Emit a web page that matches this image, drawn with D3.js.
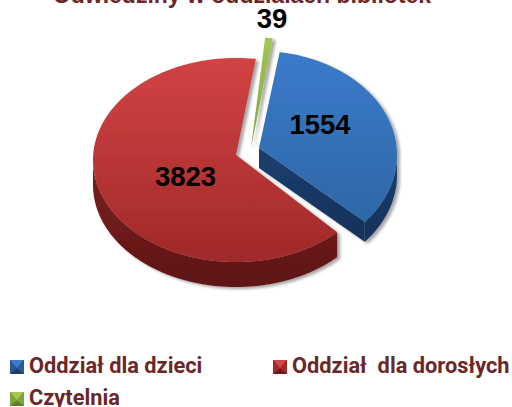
<!DOCTYPE html>
<html><head><meta charset="utf-8">
<style>html,body{margin:0;padding:0;background:#fff}svg{display:block}</style>
<script src="https://cdn.jsdelivr.net/npm/d3@7"></script></head><body>
<svg id="c" width="512" height="407"></svg>
<script>
const categories=["Oddział dla dzieci","Oddział  dla dorosłych","Czytelnia"];
const values=[1554,3823,39];
const title="Odwiedziny w oddziałach bibliotek";
const total=d3.sum(values);
const arcsData=d3.pie().sort(null).value(d=>d)(values);
const toUnits=a=>a/(2*Math.PI)*total;
// true share of the pie -> pictured angle (the reference is drawn in perspective and exploded)
const slices=[
 {i:0,range:[8.6,130],top:["#3b7bcb","#2e67a6"],side:["#1c3f6e","#14305a"],ax:259,ay:148,cx:259,cy:155,rx:138,ry:104,depth:20},
 {i:1,range:[135,368],top:["#d24343","#a02929"],side:["#7c1f1f","#5e1616"],ax:236,ay:155,cx:236,cy:160,rx:143,ry:102,depth:25},
 {i:2,range:[365.8,369.2],top:["#a4c653","#7fa53a"],side:["#6b8c30","#5f7d2a"],ax:251,ay:148,cx:252,cy:153,rx:130,ry:116,depth:1}
];
const svg=d3.select("#c");
const defs=svg.append("defs");
slices.forEach(s=>{
 [["g",s.top],["s",s.side]].forEach(([p,c])=>{
  const g=defs.append("linearGradient").attr("id",p+s.i).attr("x1",0).attr("x2",0).attr("y1",0).attr("y2",1);
  g.append("stop").attr("offset",0).attr("stop-color",c[0]);
  g.append("stop").attr("offset",1).attr("stop-color",c[1]);
 });
});
const fl=defs.append("filter").attr("id","shadow").attr("x","-20%").attr("y","-20%").attr("width","140%").attr("height","140%");
fl.append("feDropShadow").attr("dx",3).attr("dy",2).attr("stdDeviation",1.6).attr("flood-color","#000").attr("flood-opacity",0.35);
const line=d3.line();
function pt(s,deg,dy=0){const r=deg*Math.PI/180;return [s.cx+s.rx*Math.sin(r),s.cy-s.ry*Math.cos(r)+dy];}
[1,0,2].forEach(k=>{
 const s=slices[k],a=arcsData[k];
 const scale=d3.scaleLinear().domain([toUnits(a.startAngle),toUnits(a.endAngle)]).range(s.range);
 const a0=scale(toUnits(a.startAngle)),a1=scale(toUnits(a.endAngle));
 const pts=d3.range(a0,a1,0.5).concat([a1]);
 const G=svg.append("g").attr("filter","url(#shadow)");
 const f0=Math.max(a0,90),f1=Math.min(a1,270);
 if(f1>f0){
  const fr=d3.range(f0,f1,0.5).concat([f1]);
  G.append("path").attr("fill",`url(#s${k})`)
   .attr("d",line(fr.map(d=>pt(s,d)).concat(fr.slice().reverse().map(d=>pt(s,d,s.depth))))+"Z");
 }
 if(k===0){
  const e=pt(s,a1);
  G.append("path").attr("fill",`url(#s${k})`)
   .attr("d",line([[s.ax,s.ay],e,[e[0],e[1]+s.depth],[s.ax,s.ay+s.depth]])+"Z");
 }
 G.append("path").attr("fill",`url(#g${k})`)
  .attr("d",line([[s.ax,s.ay]].concat(pts.map(d=>pt(s,d))))+"Z");
});
const lab=[[320,124],[185.5,176],[272,18]];
values.forEach((v,i)=>svg.append("text").text(v).attr("x",lab[i][0]).attr("y",lab[i][1])
 .attr("dy","0.35em").attr("text-anchor","middle").attr("fill","#000")
 .style("font","bold 27.5px 'Liberation Sans'"));
svg.append("text").text(title).attr("x",242).attr("y",3).attr("text-anchor","middle")
 .attr("fill","#6b2727").style("font","bold 23px 'Liberation Sans'");
const legPos=[{m:[10,360],t:[29,373]},{m:[273,360],t:[292,373]},{m:[10,392],t:[29,405]}];
const legColors=[["#3b7bcb","#2a5a94","#1d3f6c"],["#d44545","#a52b2b","#6a1a1a"],["#a4c653","#7fa53a","#5f7d2a"]];
categories.forEach((c,i)=>{
 const p=legPos[i].m,col=legColors[i],w=14;
 const g=svg.append("g").attr("transform",`translate(${p[0]},${p[1]})`);
 g.append("rect").attr("width",w).attr("height",w).attr("fill",col[2]);
 g.append("path").attr("d",line([[0,0],[w,0],[w/2,w*0.6]])+"Z").attr("fill",col[0]);
 g.append("path").attr("d",line([[0,0],[w/2,w*0.6],[0,w]])+"Z").attr("fill",col[1]);
 g.append("path").attr("d",line([[w,0],[w/2,w*0.6],[w,w]])+"Z").attr("fill",col[1]);
 svg.append("text").text(c).attr("x",legPos[i].t[0]).attr("y",legPos[i].t[1])
  .attr("fill","#6b2727").style("white-space","pre")
  .style("font","bold 21.8px Roboto");
});
</script></body></html>
